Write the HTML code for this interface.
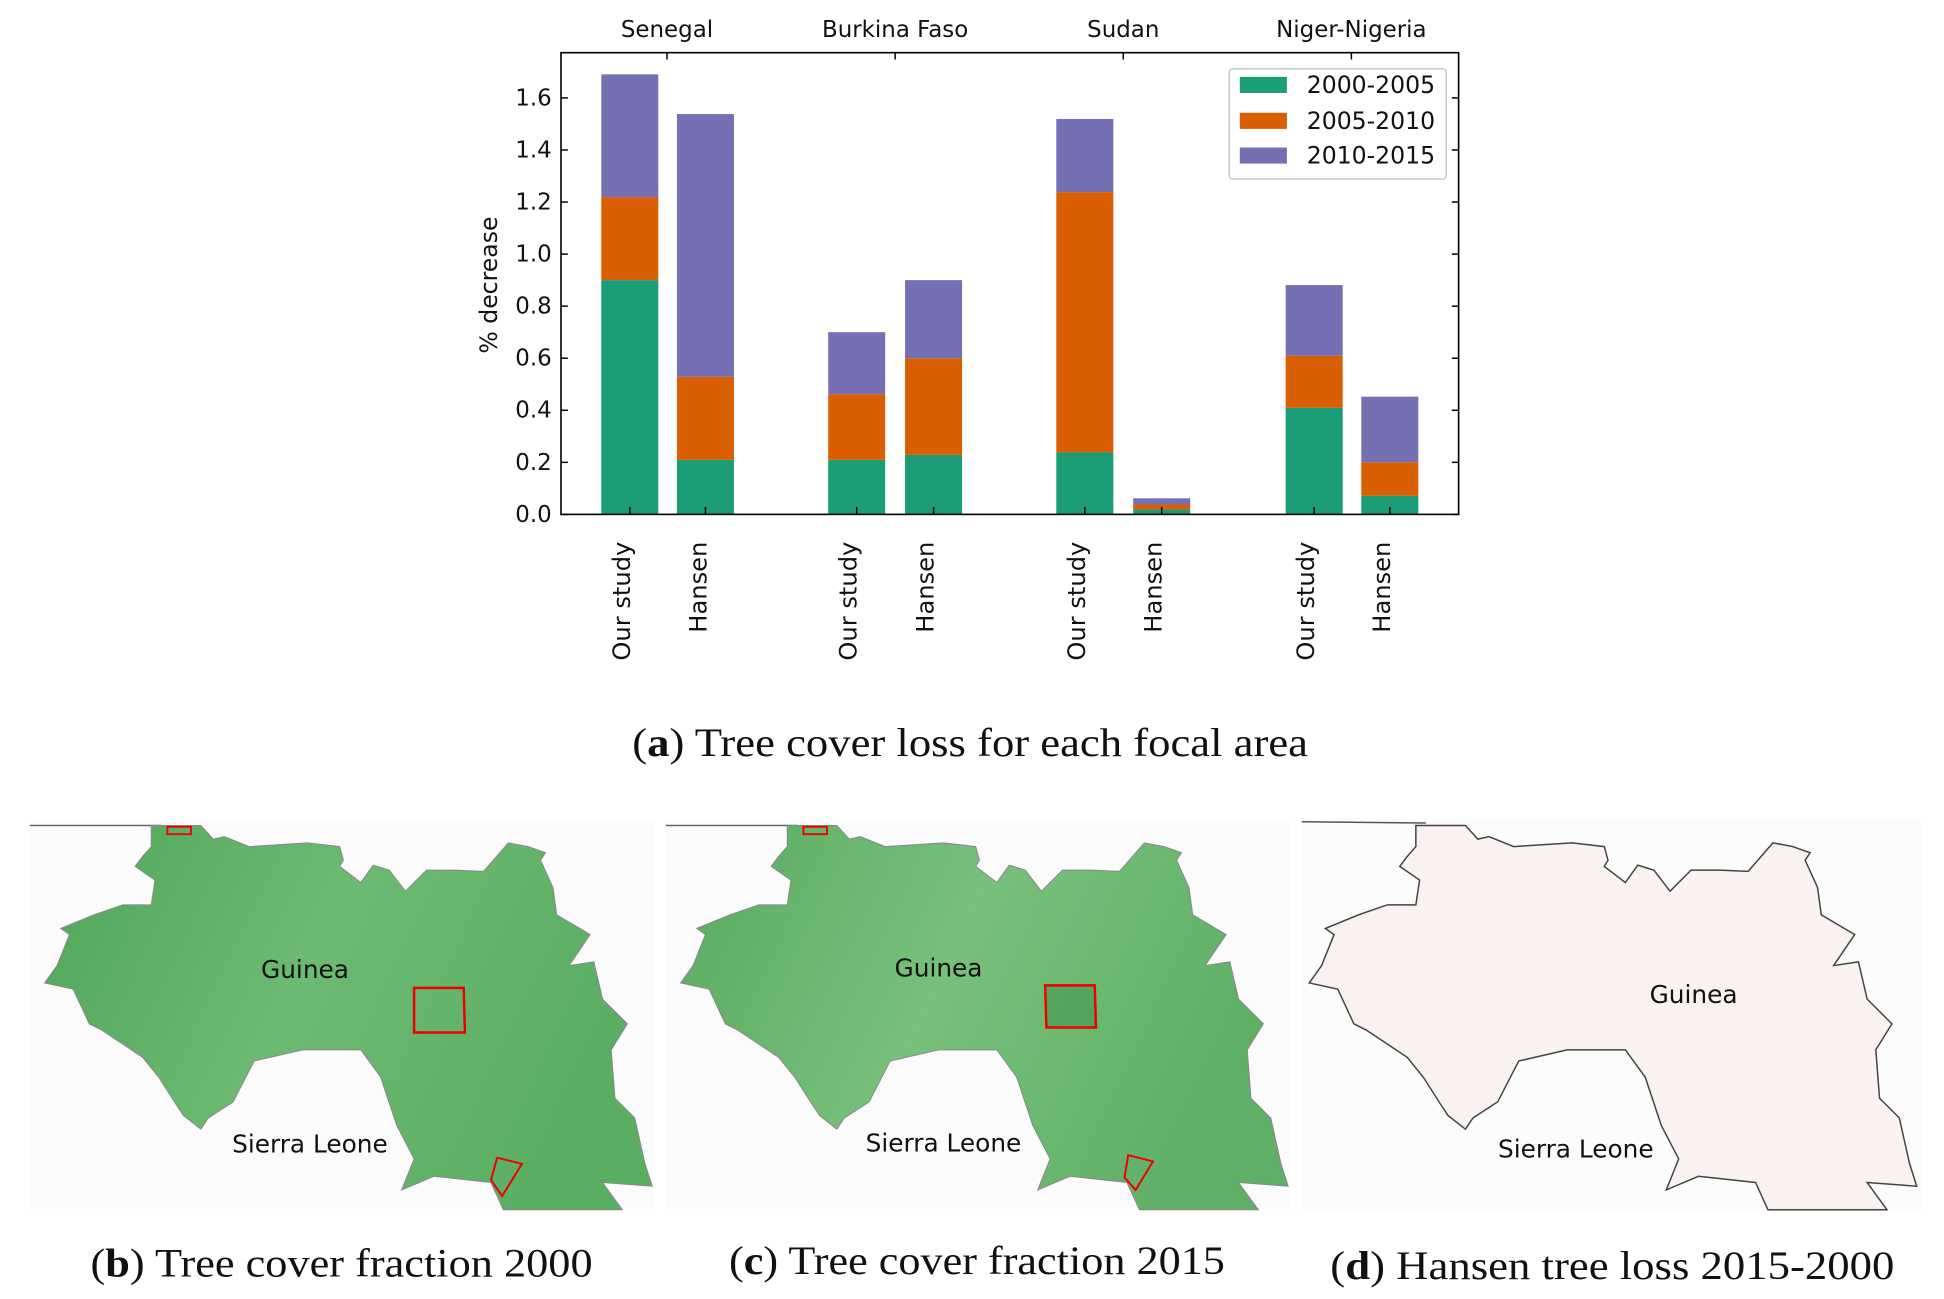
<!DOCTYPE html>
<html><head><meta charset="utf-8"><style>
html,body{margin:0;padding:0;background:#fff;}
svg{display:block;}
.t{font-family:"DejaVu Sans","Liberation Sans",sans-serif;fill:#111;}
.s{font-family:"Liberation Serif",serif;fill:#111;}
</style></head><body>
<svg width="1944" height="1299" viewBox="0 0 1568 1048" preserveAspectRatio="none" xmlns="http://www.w3.org/2000/svg">
<defs>
<polygon id="gn" points="122,666 162,666 172,677 181,675 201,683 248,680 274,683 277,694 274,699 291,712 301,698 314,702 327,719 344,702 367,702 390,703 410,680 426,683 440,688 436,694 446,716 449,738 476,754 459,779 479,776 486,806 506,826 493,847 496,886 512,902 520,938 526,957 486,954 502,976 406,976 396,954 350,949 324,960 334,935 320,908 307,869 291,847 244,847 205,856 188,889 168,902 162,911 148,900 142,891 128,869 115,853 82,831 72,826 59,798 36,793 46,779 56,754 49,749 76,738 99,730 122,730 125,710 109,699 115,691 122,683"/>
<linearGradient id="gg" x1="0" y1="0" x2="1" y2="0.3">
<stop offset="0" stop-color="#4fa65a"/><stop offset="0.5" stop-color="#6dba72"/><stop offset="1" stop-color="#5aae62"/>
</linearGradient>
<linearGradient id="gg2" x1="0" y1="0" x2="1" y2="0.3">
<stop offset="0" stop-color="#58aa60"/><stop offset="0.5" stop-color="#78c07c"/><stop offset="1" stop-color="#5fb066"/>
</linearGradient>
</defs>

<g class="t" font-size="18.5">
<text x="538" y="30" text-anchor="middle">Senegal</text>
<text x="722" y="30" text-anchor="middle">Burkina Faso</text>
<text x="906" y="30" text-anchor="middle">Sudan</text>
<text x="1090" y="30" text-anchor="middle">Niger-Nigeria</text>
</g>
<g>
<rect x="485" y="226" width="46" height="189" fill="#1b9e77"/>
<rect x="485" y="159" width="46" height="67" fill="#d95f02"/>
<rect x="485" y="60" width="46" height="99" fill="#7570b3"/>
<rect x="546" y="371" width="46" height="44" fill="#1b9e77"/>
<rect x="546" y="304" width="46" height="67" fill="#d95f02"/>
<rect x="546" y="92" width="46" height="212" fill="#7570b3"/>
<rect x="668" y="371" width="46" height="44" fill="#1b9e77"/>
<rect x="668" y="318" width="46" height="53" fill="#d95f02"/>
<rect x="668" y="268" width="46" height="50" fill="#7570b3"/>
<rect x="730" y="367" width="46" height="48" fill="#1b9e77"/>
<rect x="730" y="289" width="46" height="78" fill="#d95f02"/>
<rect x="730" y="226" width="46" height="63" fill="#7570b3"/>
<rect x="852" y="365" width="46" height="50" fill="#1b9e77"/>
<rect x="852" y="155" width="46" height="210" fill="#d95f02"/>
<rect x="852" y="96" width="46" height="59" fill="#7570b3"/>
<rect x="914" y="411" width="46" height="4" fill="#1b9e77"/>
<rect x="914" y="407" width="46" height="4" fill="#d95f02"/>
<rect x="914" y="402" width="46" height="5" fill="#7570b3"/>
<rect x="1037" y="329" width="46" height="86" fill="#1b9e77"/>
<rect x="1037" y="287" width="46" height="42" fill="#d95f02"/>
<rect x="1037" y="230" width="46" height="57" fill="#7570b3"/>
<rect x="1098" y="400" width="46" height="15" fill="#1b9e77"/>
<rect x="1098" y="373" width="46" height="27" fill="#d95f02"/>
<rect x="1098" y="320" width="46" height="53" fill="#7570b3"/>
</g>
<rect x="452.5" y="42.5" width="724" height="372.5" fill="none" stroke="#000" stroke-width="1.3"/>
<g stroke="#000" stroke-width="1.2">
<line x1="452" y1="415" x2="458" y2="415"/><line x1="1177" y1="415" x2="1171" y2="415"/>
<line x1="452" y1="373" x2="458" y2="373"/><line x1="1177" y1="373" x2="1171" y2="373"/>
<line x1="452" y1="331" x2="458" y2="331"/><line x1="1177" y1="331" x2="1171" y2="331"/>
<line x1="452" y1="289" x2="458" y2="289"/><line x1="1177" y1="289" x2="1171" y2="289"/>
<line x1="452" y1="247" x2="458" y2="247"/><line x1="1177" y1="247" x2="1171" y2="247"/>
<line x1="452" y1="205" x2="458" y2="205"/><line x1="1177" y1="205" x2="1171" y2="205"/>
<line x1="452" y1="163" x2="458" y2="163"/><line x1="1177" y1="163" x2="1171" y2="163"/>
<line x1="452" y1="121" x2="458" y2="121"/><line x1="1177" y1="121" x2="1171" y2="121"/>
<line x1="452" y1="79" x2="458" y2="79"/><line x1="1177" y1="79" x2="1171" y2="79"/>
<line x1="538" y1="42" x2="538" y2="48"/><line x1="722" y1="42" x2="722" y2="48"/>
<line x1="906" y1="42" x2="906" y2="48"/><line x1="1090" y1="42" x2="1090" y2="48"/>
<line x1="508" y1="415" x2="508" y2="409"/><line x1="569" y1="415" x2="569" y2="409"/>
<line x1="691" y1="415" x2="691" y2="409"/><line x1="753" y1="415" x2="753" y2="409"/>
<line x1="875" y1="415" x2="875" y2="409"/><line x1="937" y1="415" x2="937" y2="409"/>
<line x1="1060" y1="415" x2="1060" y2="409"/><line x1="1121" y1="415" x2="1121" y2="409"/>
</g>
<g class="t" font-size="18.5" text-anchor="end">
<text x="445" y="421">0.0</text><text x="445" y="379">0.2</text><text x="445" y="337">0.4</text>
<text x="445" y="295">0.6</text><text x="445" y="253">0.8</text><text x="445" y="211">1.0</text>
<text x="445" y="169">1.2</text><text x="445" y="127">1.4</text><text x="445" y="85">1.6</text>
</g>
<text class="t" font-size="19" transform="translate(401,230) rotate(-90)" text-anchor="middle">% decrease</text>
<g class="t" font-size="19.5" text-anchor="end">
<text transform="translate(502,437) rotate(-90)" dy="6">Our study</text>
<text transform="translate(564,437) rotate(-90)" dy="6">Hansen</text>
<text transform="translate(685,437) rotate(-90)" dy="6">Our study</text>
<text transform="translate(747,437) rotate(-90)" dy="6">Hansen</text>
<text transform="translate(869,437) rotate(-90)" dy="6">Our study</text>
<text transform="translate(931,437) rotate(-90)" dy="6">Hansen</text>
<text transform="translate(1054,437) rotate(-90)" dy="6">Our study</text>
<text transform="translate(1115,437) rotate(-90)" dy="6">Hansen</text>
</g>
<rect x="991.5" y="55.5" width="175" height="89" rx="3" fill="#fff" stroke="#ccc" stroke-width="1.3"/>
<rect x="1000" y="62" width="38" height="13" fill="#1b9e77"/>
<rect x="1000" y="91" width="38" height="13" fill="#d95f02"/>
<rect x="1000" y="119" width="38" height="13" fill="#7570b3"/>
<g class="t" font-size="19">
<text x="1054" y="75">2000-2005</text>
<text x="1054" y="104">2005-2010</text>
<text x="1054" y="132">2010-2015</text>
</g>
<text class="s" font-size="32" x="510" y="610" textLength="545" lengthAdjust="spacingAndGlyphs">(<tspan font-weight="bold">a</tspan>) Tree cover loss for each focal area</text>

<rect x="24" y="663" width="503" height="312" fill="#fbfbfb"/>
<rect x="537" y="663" width="503" height="312" fill="#fbfbfb"/>
<rect x="1050" y="660" width="500" height="317" fill="#fcfcfc"/>
<g>
<line x1="24" y1="666" x2="130" y2="666" stroke="#666" stroke-width="1.2"/>
<use href="#gn" fill="url(#gg)" stroke="#888" stroke-width="0.8"/>
<rect x="135" y="667" width="19" height="6" fill="none" stroke="#e00" stroke-width="1.5"/>
<polygon points="334,797 374,797 375,833 334,833" fill="none" stroke="#e00" stroke-width="2"/>
<polygon points="401,934 421,939 405,965 396,952" fill="none" stroke="#e00" stroke-width="1.6"/>
<text class="t" font-size="20" x="246" y="789" text-anchor="middle">Guinea</text>
<text class="t" font-size="20" x="250" y="930" text-anchor="middle">Sierra Leone</text>
</g>
<g transform="translate(513,0)">
<line x1="24" y1="666" x2="130" y2="666" stroke="#666" stroke-width="1.2"/>
<use href="#gn" fill="url(#gg2)" stroke="#888" stroke-width="0.8"/>
<rect x="135" y="667" width="19" height="6" fill="none" stroke="#e00" stroke-width="1.5"/>
<polygon points="330,795 370,795 371,829 331,829" fill="#3e8f4a" fill-opacity="0.5" stroke="#e00" stroke-width="2"/>
<polygon points="397,932 417,937 403,960 394,950" fill="none" stroke="#e00" stroke-width="1.6"/>
<text class="t" font-size="20" x="244" y="788" text-anchor="middle">Guinea</text>
<text class="t" font-size="20" x="248" y="929" text-anchor="middle">Sierra Leone</text>
</g>
<g transform="translate(1020,0)">
<line x1="30" y1="663" x2="130" y2="664" stroke="#555" stroke-width="1.2"/>
<use href="#gn" fill="#faf1f1" stroke="#444" stroke-width="1.2"/>
<text class="t" font-size="20" x="346" y="809" text-anchor="middle">Guinea</text>
<text class="t" font-size="20" x="251" y="934" text-anchor="middle">Sierra Leone</text>
</g>

<text class="s" font-size="32" x="73" y="1030" textLength="405" lengthAdjust="spacingAndGlyphs">(<tspan font-weight="bold">b</tspan>) Tree cover fraction 2000</text>
<text class="s" font-size="32" x="588" y="1028" textLength="400" lengthAdjust="spacingAndGlyphs">(<tspan font-weight="bold">c</tspan>) Tree cover fraction 2015</text>
<text class="s" font-size="32" x="1073" y="1032" textLength="455" lengthAdjust="spacingAndGlyphs">(<tspan font-weight="bold">d</tspan>) Hansen tree loss 2015-2000</text>
</svg>
</body></html>
